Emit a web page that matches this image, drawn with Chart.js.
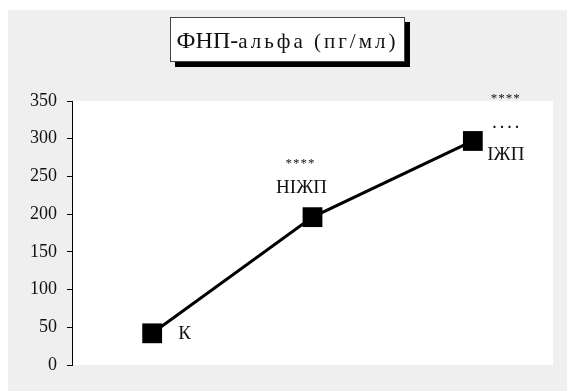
<!DOCTYPE html>
<html>
<head>
<meta charset="utf-8">
<script src="https://cdn.jsdelivr.net/npm/chart.js@4.4.1/dist/chart.umd.min.js"></script>
<style>
  body { margin: 0; background: #fff; }
  #wrap { position: relative; width: 567px; height: 391px; }
  #title {
    position: absolute; left: 170px; top: 17px; width: 233px; height: 43px;
    border: 1px solid #444; background: #fff; box-shadow: 5px 5px 0 #000;
    font-family: "Liberation Serif", serif; font-size: 24px; color: #111;
    line-height: 45px; text-align: center; white-space: nowrap;
  }
  #title .sp { letter-spacing: 3px; font-size: 21px; }
</style>
</head>
<body>
<div id="wrap">
  <canvas id="c" width="567" height="391"></canvas>
  <div id="title">ФНП-<span class="sp">альфа (пг/мл)</span></div>
</div>
<script>
// ---------------- DATA ----------------
const groups = ["К", "НІЖП", "ІЖП"];
const tnfAlpha = [42, 196, 297];
const yTicks = [0, 50, 100, 150, 200, 250, 300, 350];
// text lines written next to each point (top to bottom)
const pointNotes = [["К"], ["****", "НІЖП"], ["****", "....", "ІЖП"]];

// ---------------- BACKGROUND ----------------
const panelBg = {
  id: "panelBg",
  beforeDraw(chart) {
    const c = chart.ctx;
    const a = chart.chartArea;
    c.save();
    c.fillStyle = "#fff";
    c.fillRect(0, 0, chart.width, chart.height);
    c.fillStyle = "#efefef";
    c.fillRect(8, 10, chart.width - 8, chart.height - 10);
    c.fillStyle = "#fff";
    c.fillRect(a.left, a.top, a.right - a.left, a.bottom - a.top);
    c.restore();
  }
};

// ---------------- POINT NOTES ----------------
const notes = {
  id: "notes",
  afterDatasetsDraw(chart) {
    const pts = chart.getDatasetMeta(0).data;
    const c = chart.ctx;
    c.save();
    c.fillStyle = "#111";
    c.textAlign = "left";
    c.textBaseline = "middle";
    const big = '19px "Liberation Serif"';
    const small = '13px "Liberation Serif"';

    // К - to the right of the first point
    c.font = big;
    c.fillText(pointNotes[0][0], pts[0].x + 26, pts[0].y + 1);

    // second point - stacked above
    c.textAlign = "center";
    c.letterSpacing = "1px";
    c.font = small;
    c.fillText(pointNotes[1][0], pts[1].x - 12, pts[1].y - 54);
    c.letterSpacing = "0px";
    c.font = big;
    c.fillText(pointNotes[1][1], pts[1].x - 11, pts[1].y - 29);

    // third point - to the right, stacked
    c.letterSpacing = "1px";
    c.font = small;
    c.fillText(pointNotes[2][0], pts[2].x + 33, pts[2].y - 42);
    c.letterSpacing = "4px";
    c.font = 'bold 14px "Liberation Serif"';
    c.fillText(pointNotes[2][1], pts[2].x + 35, pts[2].y - 17);
    c.letterSpacing = "0px";
    c.font = big;
    c.fillText(pointNotes[2][2], pts[2].x + 33, pts[2].y + 14);
    c.restore();
  }
};

// ---------------- CHART ----------------
const ctx = document.getElementById("c").getContext("2d");

new Chart(ctx, {
  type: "line",
  data: {
    labels: groups,
    datasets: [{
      data: tnfAlpha,
      borderColor: "#000",
      borderWidth: 3,
      pointStyle: "rect",
      pointRadius: 14,
      pointBackgroundColor: "#000",
      pointBorderColor: "#000",
      pointBorderWidth: 0,
      fill: false,
      tension: 0
    }]
  },
  options: {
    responsive: false,
    animation: false,
    events: [],
    layout: { padding: { left: 0, top: 101, right: 13, bottom: 26 } },
    plugins: { legend: { display: false }, title: { display: false }, tooltip: { enabled: false } },
    scales: {
      x: { display: false, offset: true },
      y: {
        min: 0,
        max: 350,
        afterBuildTicks(scale) { scale.ticks = yTicks.map(v => ({ value: v })); },
        afterFit(scale) { scale.width = 72; },
        border: { display: true, color: "#000", width: 1 },
        grid: { drawOnChartArea: false, tickLength: 5, color: "#000" },
        ticks: {
          padding: 10,
          color: "#111",
          font: { family: "Liberation Serif", size: 18 }
        }
      }
    }
  },
  plugins: [panelBg, notes]
});
</script>
</body>
</html>
